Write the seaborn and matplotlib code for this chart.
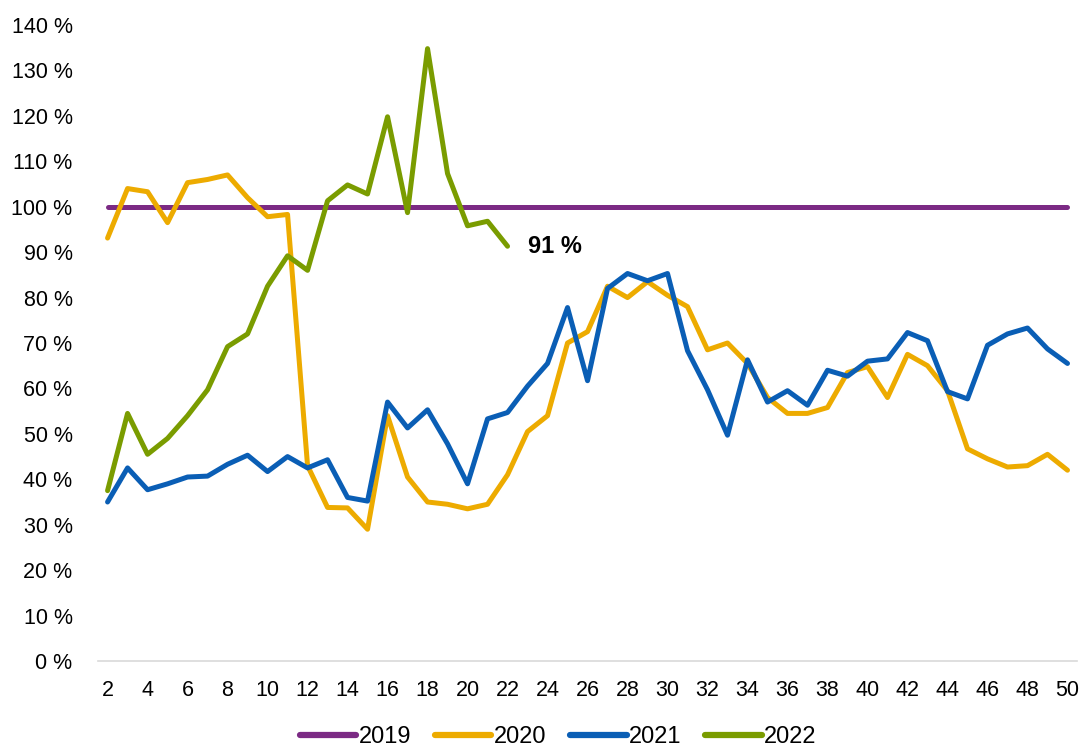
import matplotlib
matplotlib.use("Agg")
import matplotlib.pyplot as plt
import numpy as np
import pandas as pd
import seaborn as sns
from matplotlib.ticker import FuncFormatter

# %%
weeks = list(range(2, 51))
weeks_2022 = list(range(2, 23))

v2019 = [100] * len(weeks)
v2020 = [93.1, 104, 103.3, 96.5, 105.3, 106, 107, 102, 97.8, 98.3,
         43, 33.8, 33.7, 29, 54, 40.5, 35, 34.5, 33.5, 34.5,
         41, 50.5, 54, 70, 72.5, 82.5, 80, 83.5, 80.5, 78,
         68.5, 70, 65.5, 58, 54.5, 54.5, 55.8, 63.5, 64.8, 58,
         67.5, 65, 59.5, 46.7, 44.5, 42.7, 43, 45.5, 42]
v2021 = [35, 42.5, 37.7, 39, 40.5, 40.7, 43.3, 45.3, 41.7, 45,
         42.5, 44.3, 36, 35.2, 57, 51.3, 55.3, 47.8, 39, 53.3,
         54.7, 60.5, 65.5, 77.8, 61.7, 82, 85.3, 83.7, 85.3, 68.3,
         59.7, 49.7, 66.3, 57, 59.5, 56.3, 64, 62.7, 66, 66.5,
         72.3, 70.5, 59.3, 57.7, 69.5, 72, 73.3, 68.7, 65.5]
v2022 = [37.5, 54.5, 45.5, 49, 54, 59.7, 69.2, 72, 82.5, 89.2,
         86, 101.3, 104.8, 102.8, 119.8, 98.7, 134.8, 107.3, 95.8, 96.8,
         91.3]

years = ["2019", "2020", "2021", "2022"]
colors = ["#7B2A84", "#EDAB00", "#0A5EB5", "#7A9C00"]

# %%
df = pd.concat([
    pd.DataFrame({"week": weeks, "value": v2019, "year": "2019"}),
    pd.DataFrame({"week": weeks, "value": v2020, "year": "2020"}),
    pd.DataFrame({"week": weeks, "value": v2021, "year": "2021"}),
    pd.DataFrame({"week": weeks_2022, "value": v2022, "year": "2022"}),
])

sns.set_theme(style="white")
plt.rcParams["font.family"] = ["Liberation Sans", "DejaVu Sans"]
plt.rcParams["text.color"] = "black"

fig, ax = plt.subplots(figsize=(10.84, 7.49), dpi=100)
fig.subplots_adjust(left=0.09, right=0.994, bottom=0.1175, top=0.9666)

sns.lineplot(data=df, x="week", y="value", hue="year", hue_order=years,
             palette=colors, linewidth=3.6, ax=ax, sort=False)

# last value label for 2022
ax.annotate(f"{v2022[-1]:.0f} %", xy=(weeks_2022[-1], v2022[-1]),
            xytext=(15, 0), textcoords="offset points",
            ha="left", va="center", fontsize=17, fontweight="bold",
            color="black")

ax.set_xlim(1.5, 50.5)
ax.set_ylim(0, 140)
ax.set_xticks(range(2, 51, 2))
ax.set_yticks(range(0, 141, 10))
ax.yaxis.set_major_formatter(FuncFormatter(lambda v, _: f"{v:.0f} %"))
ax.tick_params(axis="both", labelsize=15.5, length=0, colors="#000000")
ax.tick_params(axis="x", pad=14)
ax.tick_params(axis="y", pad=18)
ax.set_xlabel("")
ax.set_ylabel("")

for s in ["top", "right", "left"]:
    ax.spines[s].set_visible(False)
ax.spines["bottom"].set_color("#D9D9D9")
ax.spines["bottom"].set_linewidth(1.2)

ax.legend(loc="center", bbox_to_anchor=(0.47, -0.12), ncol=4,
          frameon=False, fontsize=17, handlelength=2.4, handletextpad=0.1,
          columnspacing=1.0)
leg = ax.get_legend()
for line in leg.get_lines():
    line.set_linewidth(4.5)

fig.savefig("out.png", dpi=100)
